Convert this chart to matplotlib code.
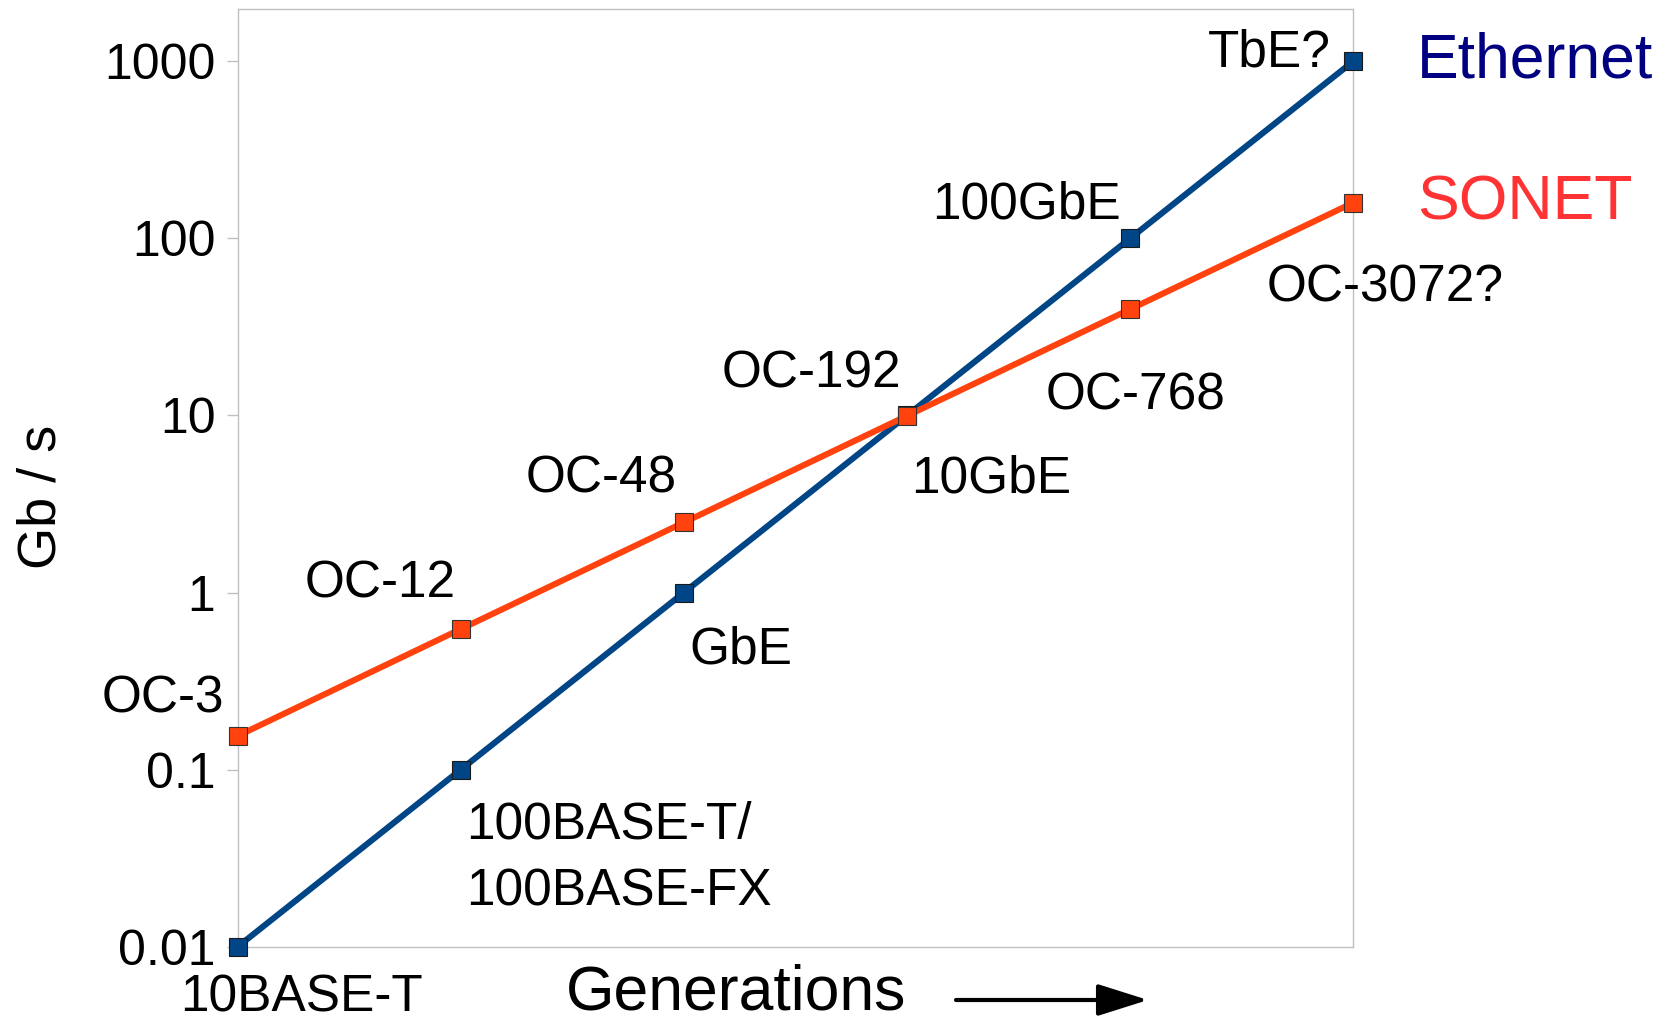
import matplotlib
matplotlib.use("Agg")
import matplotlib.pyplot as plt

plt.rcParams['font.family'] = ['Liberation Sans', 'DejaVu Sans']

# Data
generations = [0, 1, 2, 3, 4, 5]
ethernet_names = ["10BASE-T", "100BASE-T/\n100BASE-FX", "GbE", "10GbE", "100GbE", "TbE?"]
ethernet_gbps = [0.01, 0.1, 1, 10, 100, 1000]
sonet_names = ["OC-3", "OC-12", "OC-48", "OC-192", "OC-768", "OC-3072?"]
sonet_gbps = [0.155, 0.622, 2.488, 9.953, 39.8, 159.0]
ytick_vals = [0.01, 0.1, 1, 10, 100, 1000]
ytick_labels = ["0.01", "0.1", "1", "10", "100", "1000"]

ETH_LINE = "#004586"
SON_LINE = "#ff420e"
ETH_TXT = "#000080"
SON_TXT = "#ff3333"
GRID = "#c0c0c0"

W, H, DPI = 1668, 1024, 100
fig = plt.figure(figsize=(W / DPI, H / DPI), dpi=DPI)
ax = fig.add_axes([237.7 / W, 1 - 946.7 / H, (1353.3 - 237.7) / W, (946.7 - 8.5) / H])

ax.set_yscale('log')
ax.set_xlim(0, 5)
ax.set_ylim(0.01, 1986)

ax.plot(generations, ethernet_gbps, color=ETH_LINE, lw=4.4, marker='s', ms=13.5,
        mfc=ETH_LINE, mec='#1a1a1a', mew=0.8, clip_on=False, zorder=3)
ax.plot(generations, sonet_gbps, color=SON_LINE, lw=4.4, marker='s', ms=13.5,
        mfc=SON_LINE, mec='#333333', mew=0.8, clip_on=False, zorder=4)

for s in ax.spines.values():
    s.set_color(GRID)
    s.set_linewidth(1.0)

ax.set_yticks(ytick_vals)
ax.set_yticklabels(ytick_labels)
ax.yaxis.set_minor_locator(matplotlib.ticker.NullLocator())
ax.tick_params(axis='y', length=8, width=1, color=GRID, labelsize=36, pad=8, labelcolor='black')
ax.set_xticks([])

FS = 37
# offsets in pixels: (dx, dy, ha)
eth_offsets = [(64, -65, 'center'), (5, -69, 'left'), (5, -71, 'left'),
               (4, -77.5, 'left'), (-9, 19.7, 'right'), (-23, -5.7, 'right')]
son_offsets = [(-75, 23.6, 'center'), (-81, 31.4, 'center'), (-83, 29.6, 'center'),
               (-96, 28.5, 'center'), (5, -100, 'center'), (32, -99, 'center')]

for x, y, name, (dx, dy, ha) in zip(generations, ethernet_gbps, ethernet_names, eth_offsets):
    lines = name.split("\n")
    for i, ln in enumerate(lines):
        ax.annotate(ln, xy=(x, y), xytext=(dx, dy - i * 67), textcoords='offset pixels',
                    ha=ha, va='baseline', fontsize=FS, color='black', annotation_clip=False)

for x, y, name, (dx, dy, ha) in zip(generations, sonet_gbps, sonet_names, son_offsets):
    ax.annotate(name, xy=(x, y), xytext=(dx, dy), textcoords='offset pixels',
                ha=ha, va='baseline', fontsize=FS, color='black', annotation_clip=False)

# Series labels
ax.annotate("Ethernet", xy=(generations[-1], ethernet_gbps[-1]), xytext=(64, -16.7),
            textcoords='offset pixels', ha='left', va='baseline', fontsize=45,
            color=ETH_TXT, annotation_clip=False)
ax.annotate("SONET", xy=(generations[-1], sonet_gbps[-1]), xytext=(64, -17),
            textcoords='offset pixels', ha='left', va='baseline', fontsize=45,
            color=SON_TXT, annotation_clip=False)

# Axis titles
fig.text(566 / W, 1 - 1010 / H, "Generations", ha='left', va='baseline', fontsize=45)
fig.text(41 / W, 1 - 497 / H, "Gb / s", rotation=90, ha='center', va='center', fontsize=39)

fig.patches.append(matplotlib.patches.FancyArrowPatch(
    (956 / W, 1 - 1000 / H), (1148 / W, 1 - 1000 / H), transform=fig.transFigure,
    arrowstyle='-|>,head_length=1.55,head_width=0.49', mutation_scale=20,
    lw=3, color='black', shrinkA=0, shrinkB=0))

fig.savefig("out.png", dpi=DPI)
